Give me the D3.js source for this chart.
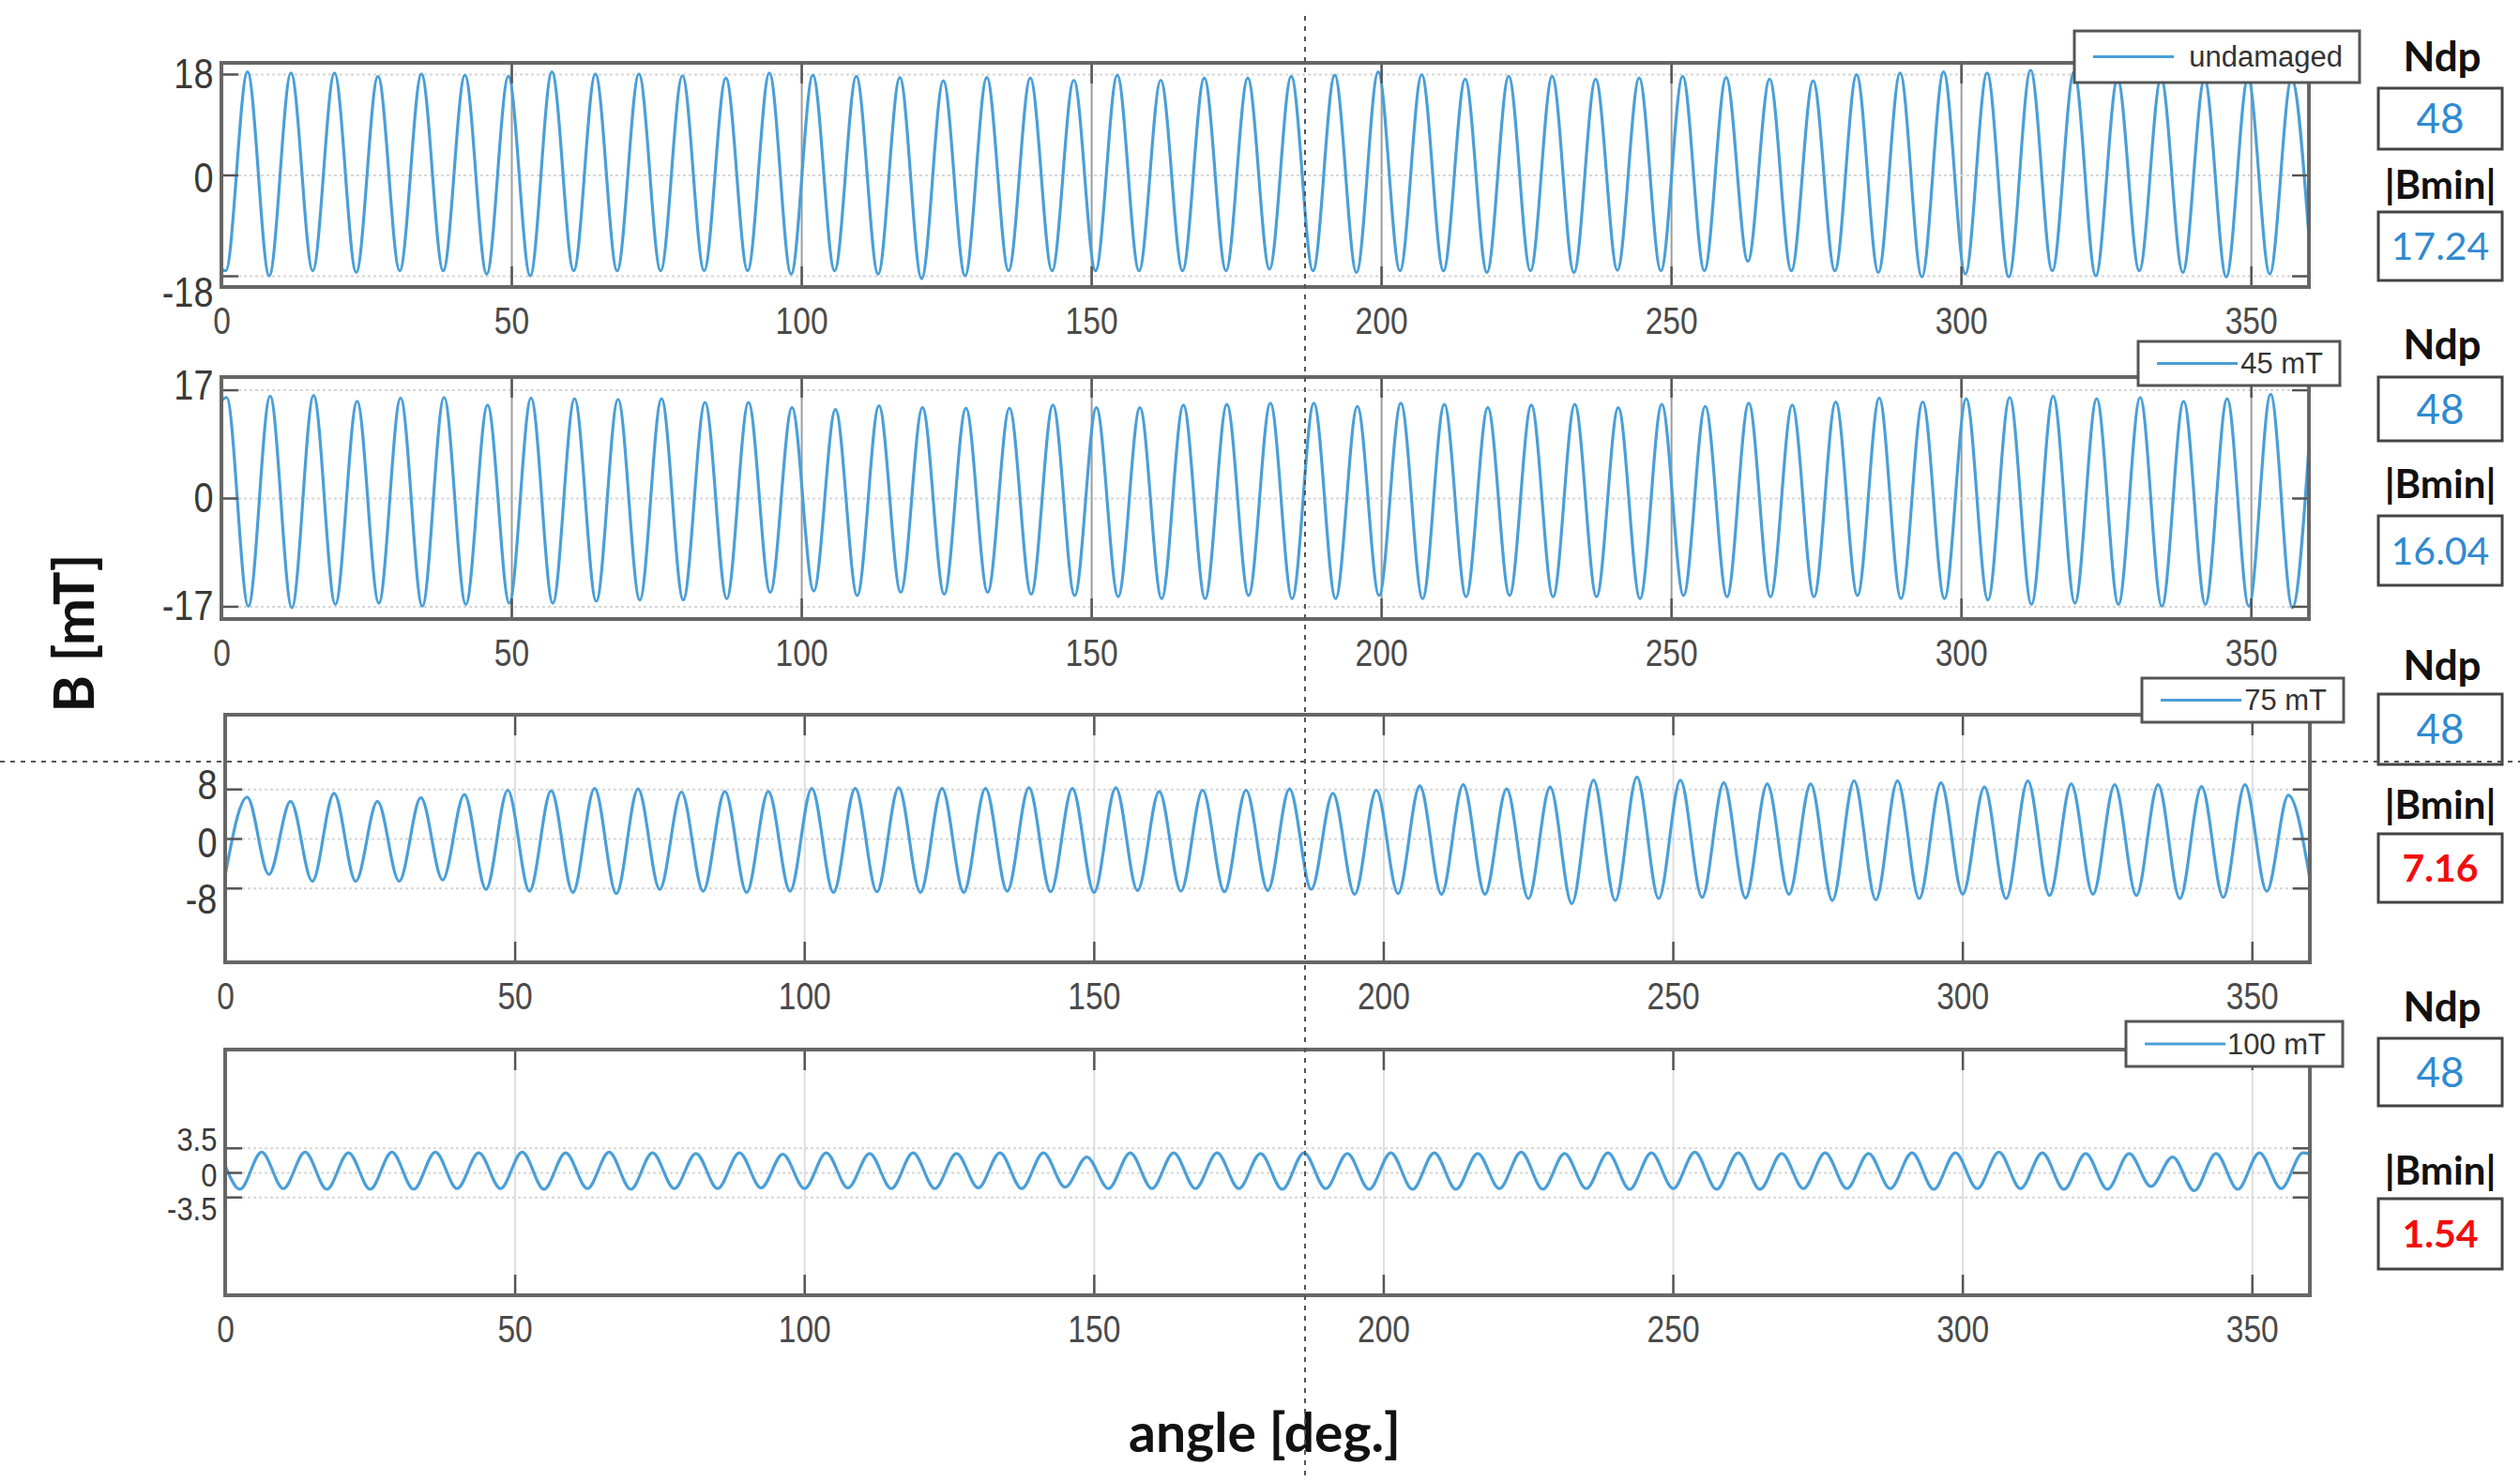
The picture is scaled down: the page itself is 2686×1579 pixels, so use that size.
<!DOCTYPE html>
<html>
<head>
<meta charset="utf-8">
<script src="https://cdn.jsdelivr.net/npm/d3@7"></script>
<style>
  body { margin: 0; background: #fff; }
  svg { display: block; }
</style>
</head>
<body>
<svg id="chart" width="2686" height="1579"></svg>
<script>
// angle of each of the 48 poles (deg)
const poleDeg = [0,7.5,15,22.5,30,37.5,45,52.5,60,67.5,75,82.5,90,97.5,105,112.5,120,127.5,135,142.5,
  150,157.5,165,172.5,180,187.5,195,202.5,210,217.5,225,232.5,240,247.5,255,262.5,270,277.5,285,292.5,
  300,307.5,315,322.5,330,337.5,345,352.5];

const seriesNames = ["undamaged", "45 mT", "75 mT", "100 mT"];

// B values [mT] read at every maximum / minimum of each trace
const undamagedPeaks = [18.4,18.2,18.2,17.6,18.0,17.8,17.6,18.4,18.0,18.0,17.7,17.3,18.2,17.8,17.6,17.4,16.8,17.4,17.3,16.9,17.8,16.9,17.3,17.3,
  17.6,17.8,18.4,17.9,17.1,17.6,17.6,17.1,17.3,17.6,17.4,17.1,16.8,17.9,18.2,18.4,18.2,18.7,18.4,17.1,17.3,17.1,17.3,17.1];
const undamagedTroughs = [-17.1,-18.0,-17.1,-17.4,-17.1,-17.1,-17.7,-18.0,-17.1,-17.1,-17.1,-17.1,-17.1,-17.7,-17.1,-17.7,-18.5,-18.0,-17.1,-17.1,-17.1,-17.1,-17.1,-17.1,
  -16.8,-17.1,-17.4,-17.1,-17.1,-17.4,-17.1,-17.4,-17.0,-17.1,-17.1,-15.4,-17.1,-17.1,-17.4,-18.2,-17.7,-18.2,-17.1,-18.0,-17.1,-17.4,-18.2,-17.7];

const mT45Peaks = [15.8,16.0,16.1,15.2,15.7,15.8,14.6,15.7,15.6,15.5,15.6,15.0,15.0,14.2,13.9,14.5,14.2,14.1,14.1,14.6,14.2,14.2,14.6,14.7,
  14.9,14.9,14.4,14.9,14.7,14.2,14.6,14.7,14.2,14.7,14.4,14.9,14.6,15.1,15.7,15.1,15.6,15.8,16.0,15.6,15.8,15.2,15.6,16.3];
const mT45Troughs = [-17.0,-17.2,-16.7,-16.5,-17.0,-16.7,-16.5,-16.5,-16.2,-16.0,-16.0,-15.8,-14.8,-14.6,-15.3,-14.8,-15.1,-14.8,-15.1,-15.3,-15.5,-15.8,-15.8,-15.3,
  -15.8,-15.8,-15.3,-15.8,-15.5,-15.3,-15.5,-15.5,-15.8,-15.3,-15.5,-15.5,-15.5,-15.3,-15.8,-15.8,-16.0,-16.7,-16.5,-16.7,-17.0,-16.7,-17.0,-17.2];

const mT75Peaks = [6.7,6.0,7.3,6.0,6.6,7.1,7.8,7.7,8.1,8.0,7.5,7.6,7.6,8.1,8.1,8.2,8.1,8.1,8.2,8.1,8.2,7.6,7.8,7.8,
  8.0,7.3,7.8,8.5,8.7,8.0,8.3,9.4,9.9,9.4,9.0,8.8,8.8,9.3,9.3,9.0,8.3,9.3,8.8,8.7,8.7,8.4,8.7,7.0];
const mT75Troughs = [-5.8,-6.9,-6.9,-6.9,-6.7,-8.2,-8.5,-8.7,-8.9,-8.2,-8.5,-8.7,-8.5,-8.7,-8.6,-8.7,-8.7,-8.5,-8.6,-8.7,-8.4,-8.5,-8.6,
  -8.4,-8.2,-9.0,-8.9,-9.0,-9.0,-9.7,-10.5,-10.0,-9.7,-9.5,-9.6,-9.0,-10.0,-9.9,-9.7,-9.0,-9.7,-9.2,-9.0,-9.2,-9.7,-9.5,-8.5];

const mT100Peaks = [2.9,2.9,2.8,2.9,2.9,2.8,2.9,2.8,2.9,2.8,2.7,2.8,2.6,2.8,2.7,2.8,2.7,2.8,2.8,2.2,2.8,2.8,2.8,2.7,
  2.8,2.7,2.8,2.8,2.7,2.9,2.7,2.8,2.8,2.9,2.8,2.7,2.8,2.7,2.8,2.8,2.9,2.8,2.7,2.7,2.2,2.7,2.8,2.8];
const mT100Troughs = [-2.4,-2.3,-2.4,-2.4,-2.4,-2.3,-2.3,-2.4,-2.3,-2.4,-2.3,-2.3,-2.2,-2.3,-2.2,-2.3,-2.3,-2.2,-2.3,-2.1,-2.3,-2.3,-2.3,-2.3,
  -2.4,-2.3,-2.4,-2.4,-2.4,-2.3,-2.4,-2.3,-2.4,-2.3,-2.4,-2.4,-2.3,-2.3,-2.3,-2.4,-2.3,-2.3,-2.4,-2.4,-2.0,-2.6,-2.4,-2.3];

// angular offset of the maxima / minima from the pole angle (deg)
const peakShift = [4.5, 0.9, 3.8, 6.3];
const troughShift = [0.75, 4.65, 7.55, 2.55];
const startB = [-16.8, 15.3, -6.0, 1.0];   // B at 0 deg
const endB = [-11.0, 8.0, -6.5, 2.6];      // B at 360 deg

const yLimits = [20, 19, 20, 17.5];
const yTickValues = [[-18, 0, 18], [-17, 0, 17], [-8, 0, 8], [-3.5, 0, 3.5]];
const xTickValues = [0, 50, 100, 150, 200, 250, 300, 350];

const ndpValues = ["48", "48", "48", "48"];
const bminValues = ["17.24", "16.04", "7.16", "1.54"];
const bminAlarm = [false, false, true, true];

const peaks = [undamagedPeaks, mT45Peaks, mT75Peaks, mT100Peaks];
const troughs = [undamagedTroughs, mT45Troughs, mT75Troughs, mT100Troughs];

// layout (pixels)
const panels = [
  {left: 236, right: 2461, top: 67, bottom: 306, grid: "#9c9c9c", nudge: [18, 4, 0], ySize: 44,
   legend: {x: 2211, y: 33, w: 304, h: 55}, side: [60, 94, 159, 197, 226, 299]},
  {left: 236, right: 2461, top: 402, bottom: 660, grid: "#9c9c9c", nudge: [0, 0, -4], ySize: 44,
   legend: {x: 2279, y: 364, w: 215, h: 47}, side: [367, 402, 470, 516, 550, 624]},
  {left: 240, right: 2462, top: 762, bottom: 1026, grid: "#dedede", nudge: [13, 5, -4], ySize: 44,
   legend: {x: 2283, y: 723, w: 215, h: 47}, side: [709, 740, 815, 858, 889, 962]},
  {left: 240, right: 2462, top: 1119, bottom: 1381, grid: "#dedede", nudge: [13, 3, -9], ySize: 36,
   legend: {x: 2266, y: 1089, w: 231, h: 48}, side: [1073, 1107, 1179, 1248, 1278, 1353]}
];

const lineColor = "#4a9fd8";
const frameColor = "#666";
const tickFont = '"Liberation Sans", Arial, sans-serif';
const sideFont = 'Lato, "Open Sans", sans-serif';

const svg = d3.select("#chart");

panels.forEach((p, i) => {
  const x = d3.scaleLinear().domain([0, 360]).range([p.left, p.right]);
  const y = d3.scaleLinear().domain([-yLimits[i], yLimits[i]]).range([p.bottom, p.top]);
  const w = p.right - p.left, h = p.bottom - p.top;
  const g = svg.append("g");

  // grid
  const gx = g.append("g").attr("transform", `translate(0,${p.bottom})`)
    .call(d3.axisBottom(x).tickValues(xTickValues).tickSize(-h).tickFormat(""));
  gx.select(".domain").remove();
  gx.selectAll("line").attr("stroke", p.grid).attr("stroke-width", 2);

  const gy = g.append("g").attr("transform", `translate(${p.left},0)`)
    .call(d3.axisLeft(y).tickValues(yTickValues[i]).tickSize(-w).tickFormat(""));
  gy.select(".domain").remove();
  gy.selectAll("line").attr("stroke", "#d6d6d6").attr("stroke-width", 2).attr("stroke-dasharray", "3,3");

  // trace
  const pts = [[0, startB[i]], [360, endB[i]]];
  peaks[i].forEach((v, k) => pts.push([poleDeg[k] + peakShift[i], v]));
  troughs[i].forEach((v, k) => pts.push([poleDeg[k] + troughShift[i], v]));
  pts.sort((a, b) => a[0] - b[0]);

  svg.append("clipPath").attr("id", "clip" + i)
    .append("rect").attr("x", p.left).attr("y", p.top).attr("width", w).attr("height", h);

  g.append("path")
    .datum(pts)
    .attr("clip-path", `url(#clip${i})`)
    .attr("fill", "none")
    .attr("stroke", lineColor)
    .attr("stroke-width", 3.2)
    .attr("d", d3.line().x(d => x(d[0])).y(d => y(d[1])).curve(d3.curveMonotoneX));

  // axes with inward ticks
  const bottomAxis = g.append("g").attr("transform", `translate(0,${p.bottom})`)
    .call(d3.axisBottom(x).tickValues(xTickValues).tickSizeInner(-22).tickSizeOuter(0).tickPadding(22));
  g.append("g").attr("transform", `translate(0,${p.top})`)
    .call(d3.axisTop(x).tickValues(xTickValues).tickSizeInner(-22).tickSizeOuter(0).tickFormat(""));
  const leftAxis = g.append("g").attr("transform", `translate(${p.left},0)`)
    .call(d3.axisLeft(y).tickValues(yTickValues[i]).tickSizeInner(-18).tickSizeOuter(0).tickPadding(10)
      .tickFormat(d => String(d)));
  g.append("g").attr("transform", `translate(${p.right},0)`)
    .call(d3.axisRight(y).tickValues(yTickValues[i]).tickSizeInner(-18).tickSizeOuter(0).tickFormat(""));

  g.selectAll(".domain").remove();
  g.selectAll(".tick line").filter(function () { return this.parentNode.parentNode !== gx.node() && this.parentNode.parentNode !== gy.node(); })
    .attr("stroke", "#555").attr("stroke-width", 2.5);

  // condensed look of the tick labels
  bottomAxis.selectAll("text").attr("font-family", tickFont).attr("font-size", 40).attr("fill", "#4a4a4a")
    .attr("transform", "scale(0.84,1)");
  leftAxis.selectAll("text").attr("font-family", tickFont).attr("font-size", p.ySize).attr("fill", "#3a3a3a")
    .attr("transform", "scale(0.86,1)")
    .attr("dy", (d, k) => (0.32 * p.ySize + p.nudge[k]) + "px");

  g.append("rect")
    .attr("x", p.left).attr("y", p.top).attr("width", w).attr("height", h)
    .attr("fill", "none").attr("stroke", frameColor).attr("stroke-width", 4);

  // legend
  const L = p.legend;
  const lg = g.append("g");
  lg.append("rect").attr("x", L.x).attr("y", L.y).attr("width", L.w).attr("height", L.h)
    .attr("fill", "#fff").attr("stroke", "#555").attr("stroke-width", 3);
  lg.append("line").attr("x1", L.x + 20).attr("x2", L.x + 106)
    .attr("y1", L.y + L.h / 2).attr("y2", L.y + L.h / 2)
    .attr("stroke", lineColor).attr("stroke-width", 3.2);
  lg.append("text").attr("x", L.x + L.w - 18).attr("y", L.y + L.h / 2)
    .attr("dy", "0.35em").attr("text-anchor", "end")
    .attr("font-family", '"Liberation Sans", Arial, sans-serif').attr("font-size", 31).attr("fill", "#333")
    .text(seriesNames[i]);

  // Ndp and |Bmin| boxes
  const s = p.side, bx = 2535, bw = 132, cx = bx + bw / 2;
  g.append("text").attr("x", cx + 2).attr("y", s[0]).attr("dy", "0.36em").attr("text-anchor", "middle")
    .attr("font-family", sideFont).attr("font-weight", "bold").attr("font-size", 44).attr("fill", "#111").text("Ndp");
  g.append("rect").attr("x", bx).attr("y", s[1]).attr("width", bw).attr("height", s[2] - s[1])
    .attr("fill", "#fff").attr("stroke", "#444").attr("stroke-width", 3);
  g.append("text").attr("x", cx).attr("y", (s[1] + s[2]) / 2).attr("dy", "0.36em").attr("text-anchor", "middle")
    .attr("font-family", sideFont).attr("font-size", 44).attr("fill", "#2f8ad0").text(ndpValues[i]);
  g.append("text").attr("x", cx).attr("y", s[3]).attr("dy", "0.36em").attr("text-anchor", "middle")
    .attr("font-family", sideFont).attr("font-weight", "bold").attr("font-size", 42).attr("fill", "#111").text("|Bmin|");
  g.append("rect").attr("x", bx).attr("y", s[4]).attr("width", bw).attr("height", s[5] - s[4])
    .attr("fill", "#fff").attr("stroke", "#444").attr("stroke-width", 3);
  g.append("text").attr("x", cx).attr("y", (s[4] + s[5]) / 2).attr("dy", "0.36em").attr("text-anchor", "middle")
    .attr("font-family", sideFont).attr("font-size", 41)
    .attr("font-weight", bminAlarm[i] ? "bold" : "normal")
    .attr("fill", bminAlarm[i] ? "#f20d0d" : "#2f8ad0").text(bminValues[i]);
});

// axis titles
svg.append("text").attr("transform", "translate(100,675) rotate(-90)").attr("text-anchor", "middle")
  .attr("font-family", sideFont).attr("font-weight", "bold").attr("font-size", 60).attr("fill", "#111")
  .text("B [mT]");
svg.append("text").attr("x", 1348).attr("y", 1548).attr("text-anchor", "middle")
  .attr("font-family", sideFont).attr("font-weight", "bold").attr("font-size", 57).attr("fill", "#111")
  .text("angle [deg.]");

// dashed cross-hair
svg.append("line").attr("x1", 1391).attr("x2", 1391).attr("y1", 17).attr("y2", 1579)
  .attr("stroke", "#555").attr("stroke-width", 2).attr("stroke-dasharray", "5,6");
svg.append("line").attr("x1", 0).attr("x2", 2686).attr("y1", 812).attr("y2", 812)
  .attr("stroke", "#555").attr("stroke-width", 2).attr("stroke-dasharray", "5,6");
</script>
</body>
</html>
